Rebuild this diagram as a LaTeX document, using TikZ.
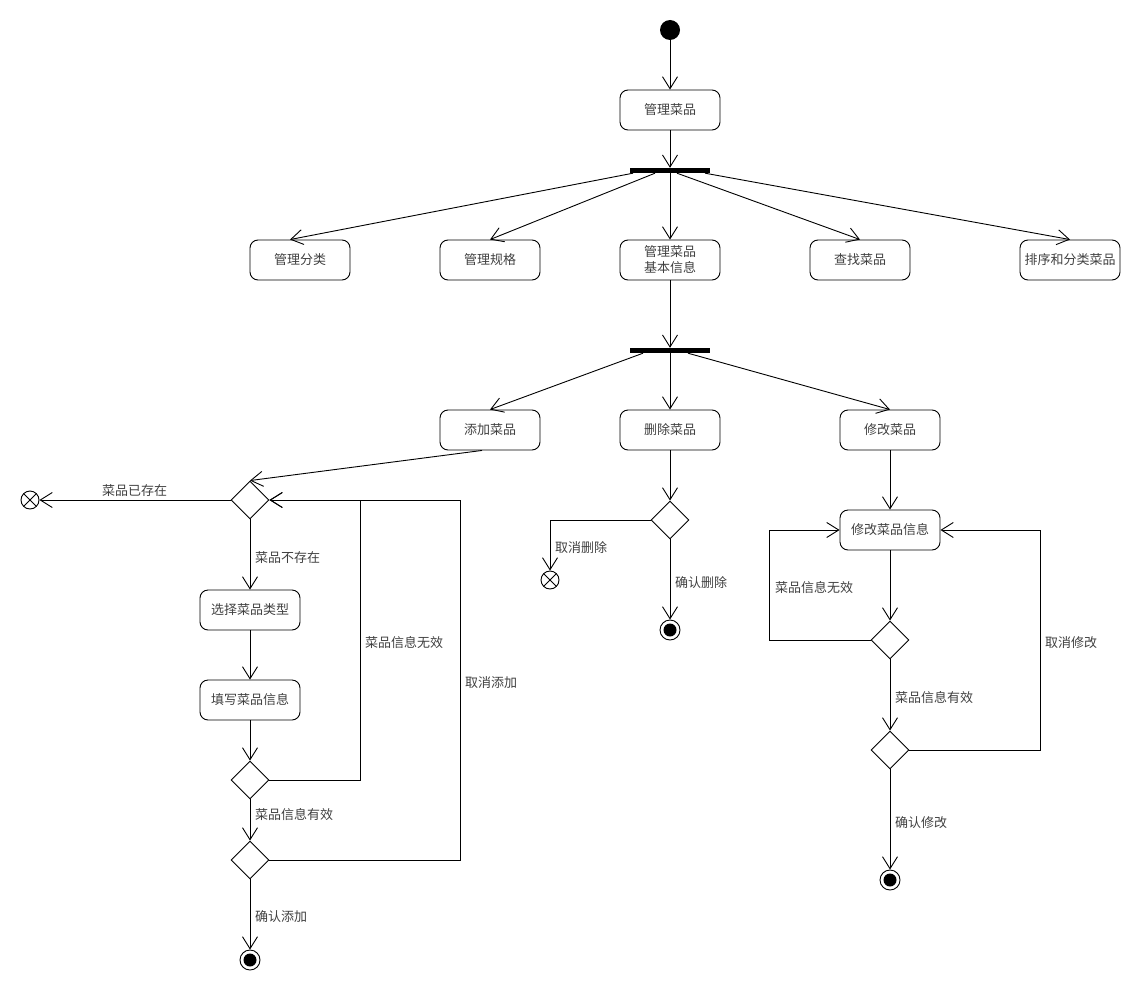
\documentclass[tikz,border=0pt]{standalone}
\usepackage{fontspec}
\newfontfamily\cjk{Noto Sans CJK SC}
\usetikzlibrary{arrows.meta,shapes.geometric}
\begin{document}
\begin{tikzpicture}[x=1pt,y=-1pt,
  every node/.style={font=\cjk\fontsize{13}{16}\selectfont, text=black!75},
  act/.style={draw, rounded corners=8pt, minimum width=100pt, minimum height=40pt, line width=0.9pt, align=center, inner sep=2pt},
  bar/.style={fill=black, minimum width=80pt, minimum height=5pt, inner sep=0pt},
  dec/.style={draw, diamond, minimum width=38pt, minimum height=38pt, inner sep=0pt, line width=0.9pt},
  initnode/.style={circle, fill=black, minimum size=20pt, inner sep=0pt},
  finalnode/.style={circle, draw, minimum size=20pt, inner sep=0pt, line width=0.9pt,
    path picture={\fill (path picture bounding box.center) circle (6.5pt);}},
  flowend/.style={circle, draw, minimum size=18pt, inner sep=0pt, line width=0.9pt,
    path picture={\draw[line width=0.9pt] (path picture bounding box.north west) -- (path picture bounding box.south east)
      (path picture bounding box.north east) -- (path picture bounding box.south west);}},
  lbl/.style={anchor=west, inner sep=0pt},
  flow/.style={line width=0.9pt, -{Straight Barb[length=12pt,width=15pt,line width=0.9pt]}},
  plain/.style={line width=0.9pt}
]
\useasboundingbox (0,0) rectangle (1140,990);

% top
\node[initnode] (init) at (670,30) {};
\node[act] (m) at (670,110) {管理菜品};
\node[bar] (b1) at (670,170.5) {};

\node[act] (c1) at (300,260) {管理分类};
\node[act] (c2) at (490,260) {管理规格};
\node[act] (c3) at (670,260) {管理菜品\\基本信息};
\node[act] (c4) at (860,260) {查找菜品};
\node[act] (c5) at (1070,260) {排序和分类菜品};

\node[bar] (b2) at (670,350.5) {};

\node[act] (add) at (490,430) {添加菜品};
\node[act] (del) at (670,430) {删除菜品};
\node[act] (mod) at (890,430) {修改菜品};

\draw[flow] (init) -- (m.north);
\draw[flow] (m.south) -- (b1.north);
\draw[flow] ([xshift=-37pt]b1.south) -- ([xshift=-10pt]c1.north);
\draw[flow] ([xshift=-15pt]b1.south) -- (c2.north);
\draw[flow] (b1.south) -- (c3.north);
\draw[flow] ([xshift=7pt]b1.south) -- (c4.north);
\draw[flow] ([xshift=35pt]b1.south) -- (c5.north);

\draw[flow] (c3.south) -- (b2.north);
\draw[flow] ([xshift=-27pt]b2.south) -- (add.north);
\draw[flow] (b2.south) -- (del.north);
\draw[flow] ([xshift=18pt]b2.south) -- (mod.north);

% left branch
\node[dec] (d1) at (250,500) {};
\node[flowend] (x1) at (30,500) {};
\node[act] (sel) at (250,610) {选择菜品类型};
\node[act] (fil) at (250,700) {填写菜品信息};
\node[dec] (d2) at (250,780) {};
\node[dec] (d3) at (250,860) {};
\node[finalnode] (f1) at (250,960) {};

\draw[flow] ([xshift=-8pt]add.south) -- (d1.north);
\draw[flow] (d1.west) -- (x1.east);
\node[lbl] (l1) at (102,491) {菜品已存在};
\draw[flow] (d1.south) -- (sel.north);
\node[lbl] (l2) at (255,558) {菜品不存在};
\draw[flow] (sel.south) -- (fil.north);
\draw[flow] (fil.south) -- (d2.north);
\draw[flow] (d2.east) -- ++(91,0) |- (d1.east);
\node[lbl] (l3) at (365,643) {菜品信息无效};
\draw[flow] (d2.south) -- (d3.north);
\node[lbl] (l4) at (255,815) {菜品信息有效};
\draw[flow] (d3.east) -- ++(191,0) |- (d1.east);
\node[lbl] (l5) at (465,683) {取消添加};
\draw[flow] (d3.south) -- (f1.north);
\node[lbl] (l6) at (255,917) {确认添加};

% middle branch
\node[dec] (d4) at (670,520) {};
\node[flowend] (x2) at (550,580) {};
\node[finalnode] (f2) at (670,630) {};
\draw[flow] (del.south) -- (d4.north);
\draw[flow] (d4.west) -| (x2.north);
\node[lbl] (l7) at (555,548) {取消删除};
\draw[flow] (d4.south) -- (f2.north);
\node[lbl] (l8) at (675,583) {确认删除};

% right branch
\node[act] (mi) at (890,530) {修改菜品信息};
\node[dec] (d5) at (890,640) {};
\node[dec] (d6) at (890,750) {};
\node[finalnode] (f3) at (890,880) {};
\draw[flow] (mod.south) -- (mi.north);
\draw[flow] (mi.south) -- (d5.north);
\draw[flow] (d5.west) -- ++(-101,0) |- (mi.west);
\node[lbl] (l9) at (775,588) {菜品信息无效};
\draw[flow] (d5.south) -- (d6.north);
\node[lbl] (l10) at (895,698) {菜品信息有效};
\draw[flow] (d6.east) -- ++(131,0) |- (mi.east);
\node[lbl] (l11) at (1045,643) {取消修改};
\draw[flow] (d6.south) -- (f3.north);
\node[lbl] (l12) at (895,823) {确认修改};
\end{tikzpicture}
\end{document}
